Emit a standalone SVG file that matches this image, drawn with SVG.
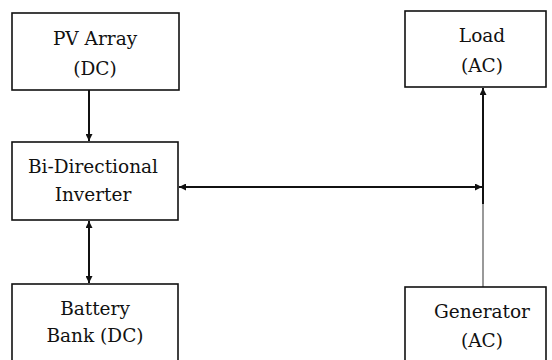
<svg xmlns="http://www.w3.org/2000/svg" width="552" height="360" viewBox="0 0 552 360">
<style>
.box{fill:#fff;stroke:#111;stroke-width:1.6}
.t{font-family:'DejaVu Serif','Liberation Serif',serif;font-size:18.5px;fill:#111;text-anchor:middle}
.c{stroke:#111;stroke-width:2;fill:none}
.thin{stroke:#555;stroke-width:1.2;fill:none}
</style>
<defs>
<marker id="ah" viewBox="0 0 10 10" refX="10" refY="5" markerWidth="8" markerHeight="7" orient="auto-start-reverse" markerUnits="userSpaceOnUse"><path d="M0,0 L10,5 L0,10 z" fill="#111"/></marker>
</defs>
<rect width="552" height="360" fill="#fff"/>
<g id="connectors">
<line class="c" x1="89" y1="90" x2="89" y2="141" marker-end="url(#ah)"/>
<line class="c" x1="89" y1="221" x2="89" y2="283" marker-start="url(#ah)" marker-end="url(#ah)"/>
<line class="c" x1="179" y1="187" x2="482" y2="187" marker-start="url(#ah)" marker-end="url(#ah)"/>
<line class="thin" x1="483" y1="287" x2="483" y2="200"/>
<line class="c" x1="483" y1="204" x2="483" y2="88" marker-end="url(#ah)"/>
</g>
<g id="pv">
<rect class="box" x="12" y="13" width="167" height="77"/>
<text class="t" x="95" y="45">PV Array</text>
<text class="t" x="95" y="75">(DC)</text>
</g>
<g id="inverter">
<rect class="box" x="12" y="142" width="166" height="78"/>
<text class="t" x="93" y="173">Bi-Directional</text>
<text class="t" x="93" y="201">Inverter</text>
</g>
<g id="battery">
<rect class="box" x="12" y="284" width="166" height="90"/>
<text class="t" x="95" y="315">Battery</text>
<text class="t" x="95" y="342">Bank (DC)</text>
</g>
<g id="load">
<rect class="box" x="405" y="11" width="141" height="76"/>
<text class="t" x="482" y="42">Load</text>
<text class="t" x="482" y="72">(AC)</text>
</g>
<g id="generator">
<rect class="box" x="405" y="287" width="141" height="90"/>
<text class="t" x="482" y="318">Generator</text>
<text class="t" x="482" y="347">(AC)</text>
</g>
</svg>
